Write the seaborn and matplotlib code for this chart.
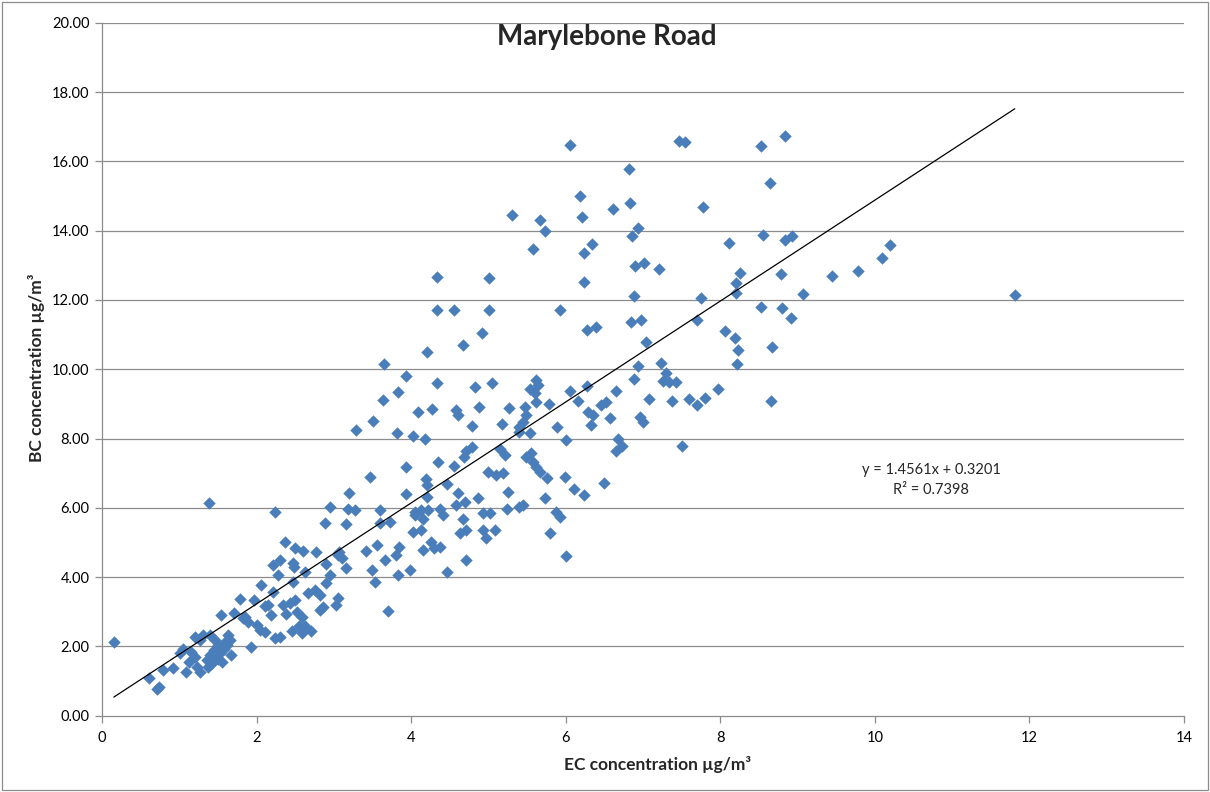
import matplotlib
matplotlib.use("Agg")
import matplotlib.pyplot as plt
import seaborn as sns
import numpy as np
import pandas as pd
from matplotlib.patches import Rectangle

# EC vs BC concentrations (µg/m³), Marylebone Road
ec = [
    6.05, 7.46, 7.54, 8.52, 8.84, 6.82, 8.64, 6.18,
    5.30, 6.21, 5.66, 6.61, 6.83, 7.78, 6.94,
    5.73, 6.86, 8.55, 8.83, 8.93, 6.34, 5.58, 6.24, 8.11, 10.20, 10.09,
    7.01, 6.90, 7.21, 9.78, 9.44, 8.25, 8.78, 8.20, 8.20, 9.07, 11.81,
    6.23, 5.00, 4.33, 7.75, 6.88, 5.92, 5.01, 4.33, 4.55,
    8.53, 8.80, 8.91, 7.70, 6.97, 6.84, 6.39, 6.27, 8.06, 8.19, 4.91,
    7.04, 4.67, 8.67, 8.23, 4.20, 3.65, 7.23, 6.94, 8.22,
    3.93, 6.88, 7.30, 7.26, 7.34, 7.42, 5.62, 5.64, 5.53, 5.60, 4.33, 4.83, 5.04, 7.97, 6.06, 6.27, 6.65,
    3.83, 3.64, 7.80, 7.60, 7.70, 7.37, 7.07, 8.66, 5.62, 5.78, 6.16, 6.46, 6.52, 4.88, 5.27, 5.47,
    4.09, 4.27, 4.58, 4.61, 3.51, 6.29, 6.35, 6.57, 6.96, 7.00,
    5.49, 5.44, 5.40, 5.17, 4.78, 3.28,
    6.32, 5.89, 5.39, 5.53, 3.82, 4.02, 4.18, 6.00, 6.68, 7.50,
    6.65, 6.73, 4.78, 5.15, 5.21, 5.49, 5.55, 5.58, 5.62, 5.66, 5.75, 4.71, 4.68, 4.55, 4.35, 3.93,
    4.99, 5.10, 5.19, 5.99, 3.46, 4.19, 4.20, 4.46, 6.10, 6.24, 6.49,
    3.20, 3.93, 4.20, 4.61, 5.25, 4.86, 5.73, 4.69, 4.58,
    2.95, 3.18, 3.27, 3.59, 4.05, 4.13, 4.22, 4.37, 4.41, 4.05, 4.15, 5.24, 5.40, 5.45, 5.87, 5.92, 4.93, 5.02,
    2.88, 3.16, 3.59, 3.72, 4.02, 4.13, 4.67, 4.63, 4.71, 4.93, 5.08, 4.97, 5.79, 6.00,
    3.56, 3.42, 3.84, 3.80, 4.26, 4.30, 4.15, 4.37, 2.60, 2.76, 3.05, 3.10, 3.07, 3.66, 3.15, 2.89,
    3.98, 3.83, 4.46, 3.49, 3.53, 2.62, 2.95, 2.90, 2.66, 2.75, 2.82, 3.05, 3.02, 3.70, 2.82, 2.86,
    2.58, 2.62, 4.71,
    1.38, 2.23, 2.37, 2.49, 2.30, 2.21, 2.47, 2.48, 2.28, 2.47, 2.05, 1.78, 1.96, 2.10, 2.34, 2.43, 2.49,
    1.54, 1.70, 1.85,
    0.15, 0.60, 0.71, 0.74, 0.79, 0.92, 1.08, 1.01, 1.05, 1.20, 1.26, 1.20, 1.22, 1.26, 1.35, 1.39,
    1.44, 1.50, 1.46, 1.39, 1.31, 1.42, 1.46, 1.37, 1.52, 1.57, 1.59, 1.63, 1.67, 1.82, 1.89, 1.93,
    2.00, 2.04, 2.10, 2.19, 2.21, 2.23, 2.15,
    1.12, 1.15, 1.50, 1.55, 1.62, 1.48, 1.65,
    2.30, 2.45, 2.58, 2.70, 2.55, 2.38, 2.52,
]
bc = [
    16.47, 16.58, 16.55, 16.43, 16.73, 15.79, 15.38, 14.99,
    14.44, 14.40, 14.30, 14.62, 14.81, 14.68, 14.09,
    13.98, 13.84, 13.88, 13.74, 13.84, 13.61, 13.48, 13.36, 13.64, 13.58, 13.21,
    13.07, 12.99, 12.89, 12.83, 12.68, 12.78, 12.74, 12.49, 12.21, 12.16, 12.15,
    12.52, 12.62, 12.65, 12.06, 12.10, 11.70, 11.70, 11.70, 11.70,
    11.80, 11.78, 11.49, 11.41, 11.43, 11.37, 11.22, 11.13, 11.10, 10.91, 11.05,
    10.79, 10.71, 10.64, 10.55, 10.50, 10.16, 10.19, 10.09, 10.14,
    9.81, 9.73, 9.89, 9.66, 9.62, 9.62, 9.68, 9.54, 9.44, 9.30, 9.59, 9.49, 9.61, 9.42, 9.37, 9.51, 9.37,
    9.33, 9.11, 9.17, 9.13, 8.98, 9.09, 9.13, 9.08, 9.06, 9.01, 9.09, 8.96, 9.06, 8.91, 8.89, 8.91,
    8.77, 8.85, 8.82, 8.67, 8.51, 8.77, 8.67, 8.58, 8.62, 8.48,
    8.67, 8.48, 8.34, 8.43, 8.36, 8.26,
    8.38, 8.32, 8.19, 8.16, 8.16, 8.08, 8.00, 7.97, 8.00, 7.78,
    7.64, 7.78, 7.75, 7.71, 7.52, 7.47, 7.57, 7.33, 7.18, 7.04, 6.85, 7.64, 7.47, 7.20, 7.31, 7.18,
    7.04, 6.94, 7.01, 6.90, 6.89, 6.82, 6.65, 6.70, 6.53, 6.37, 6.72,
    6.43, 6.41, 6.32, 6.43, 6.46, 6.27, 6.29, 6.17, 6.08,
    6.03, 5.98, 5.93, 5.95, 5.88, 5.95, 5.93, 5.98, 5.79, 5.79, 5.69, 5.98, 6.01, 6.08, 5.88, 5.74, 5.84, 5.84,
    5.55, 5.53, 5.57, 5.60, 5.31, 5.36, 5.69, 5.26, 5.36, 5.36, 5.36, 5.12, 5.26, 4.61,
    4.92, 4.76, 4.87, 4.64, 5.02, 4.83, 4.78, 4.87, 4.76, 4.73, 4.64, 4.54, 4.73, 4.49, 4.25, 4.38,
    4.22, 4.06, 4.15, 4.20, 3.86, 4.15, 4.06, 3.82, 3.53, 3.63, 3.48, 3.39, 3.19, 3.03, 3.05, 3.14,
    2.86, 2.59, 4.48,
    6.14, 5.87, 5.02, 4.83, 4.49, 4.35, 4.40, 4.28, 4.06, 3.86, 3.77, 3.37, 3.34, 3.16, 3.19, 3.24, 3.34,
    2.90, 2.97, 2.86,
    2.13, 1.08, 0.76, 0.82, 1.32, 1.37, 1.27, 1.80, 1.92, 2.28, 2.18, 1.70, 1.41, 1.27, 1.61, 1.75,
    1.89, 2.04, 2.18, 2.33, 2.33, 1.51, 1.61, 1.41, 1.80, 1.94, 2.13, 2.33, 1.75, 2.81, 2.71, 1.99,
    2.62, 2.47, 2.42, 2.90, 3.58, 2.23, 3.19,
    1.55, 1.85, 1.65, 1.55, 2.05, 1.95, 2.20,
    2.28, 2.45, 2.40, 2.45, 2.60, 2.95, 3.00,
]

# Linear trendline coefficients
slope = 1.4561
intercept = 0.3201
r_squared = 0.7398

x_ticks = [0, 2, 4, 6, 8, 10, 12, 14]
y_ticks = [0, 2, 4, 6, 8, 10, 12, 14, 16, 18, 20]

df = pd.DataFrame({"EC": ec, "BC": bc})

sns.set_theme(style="white")
plt.rcParams["font.family"] = ["Lato", "DejaVu Sans"]

fig = plt.figure(figsize=(12.10, 7.92), dpi=100)
ax = fig.add_axes([0.0845, 0.0963, 0.8940, 0.8750])

grid_col = "#8c8c8c"
for yv in y_ticks[1:]:
    ax.axhline(yv, color=grid_col, lw=0.9, zorder=0)

sns.scatterplot(data=df, x="EC", y="BC", marker="D", s=40, color="#4a7ebb",
                linewidth=0, ax=ax, zorder=3)

xline = np.array([min(ec), max(ec)])
ax.plot(xline, slope * xline + intercept, color="black", lw=0.9, zorder=4)

ax.set_xlim(0, 14)
ax.set_ylim(0, 20)
ax.set_xticks(x_ticks)
ax.set_yticks(y_ticks)
ax.set_xticklabels([str(t) for t in x_ticks])
ax.set_yticklabels([f"{t:.2f}" for t in y_ticks])
ax.tick_params(axis="both", which="both", direction="out", length=5, width=0.9,
               color=grid_col, labelsize=10.5, labelcolor="black", pad=4,
               bottom=True, left=True)
ax.tick_params(axis="x", pad=6)

for side in ("top", "right"):
    ax.spines[side].set_visible(False)
for side in ("left", "bottom"):
    ax.spines[side].set_color(grid_col)
    ax.spines[side].set_linewidth(0.9)

ax.set_xlabel("EC concentration µg/m³", fontsize=12.5, fontweight="bold")
ax.set_ylabel("BC concentration µg/m³", fontsize=12.5, fontweight="bold")
ax.xaxis.set_label_coords(0.513, -0.058)
ax.yaxis.set_label_coords(-0.053, 0.502)

ax.text(10.73, 7.09, f"y = {slope:.4f}x + {intercept:.4f}", ha="center", va="center",
        fontsize=10.5)
ax.text(10.73, 6.51, f"R² = {r_squared:.4f}", ha="center", va="center", fontsize=10.5)

fig.text(0.5017, 1 - 37 / 792, "Marylebone Road", ha="center", va="center",
         fontsize=20, fontweight="bold")

fig.patches.append(Rectangle((2 / 1210, 2 / 792), 1 - 4 / 1210, 1 - 4 / 792,
                             transform=fig.transFigure, fill=False,
                             edgecolor="#8c8c8c", lw=0.9))

fig.savefig("out.png", dpi=100, facecolor="white")
